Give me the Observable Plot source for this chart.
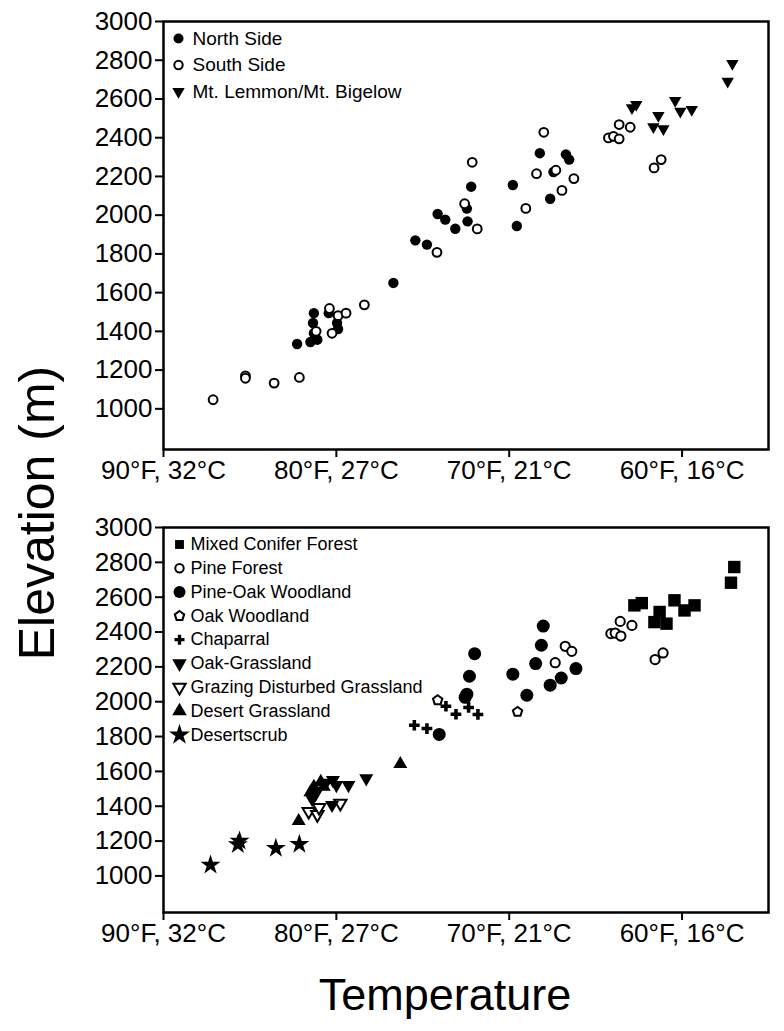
<!DOCTYPE html>
<html><head><meta charset="utf-8">
<script src="https://cdn.jsdelivr.net/npm/d3@7"></script>
<script src="https://cdn.jsdelivr.net/npm/@observablehq/plot@0.6"></script>
<style>
body{margin:0;background:#fff;font-family:"Liberation Sans",Arial,sans-serif;}
#wrap{position:relative;width:784px;height:1031px;overflow:hidden;background:#fff;}
#top{position:absolute;left:0;top:0;}
#bot{position:absolute;left:0;top:490px;}
#xtitle{position:absolute;left:245px;width:400px;top:972px;text-align:center;font-size:45px;line-height:45px;color:#000;}
#ytitle{position:absolute;left:37px;top:513px;transform:translate(-50%,-50%) rotate(-90deg);white-space:nowrap;font-size:50px;line-height:50px;color:#000;}
</style></head>
<body><div id="wrap"><div id="top"></div><div id="bot"></div>
<div id="xtitle">Temperature</div><div id="ytitle">Elevation (m)</div></div>
<script>
// ---- axis ticks ----
const xTicks = [90, 80, 70, 60];
const xTickLabels = ["90°F, 32°C", "80°F, 27°C", "70°F, 21°C", "60°F, 16°C"];
const yTicks = [1000, 1200, 1400, 1600, 1800, 2000, 2200, 2400, 2600, 2800, 3000];

// ---- top panel: [temperature °F, elevation m] ----
const northSide = [
  [82.27,1335],[81.3,1494],[81.35,1443],[81.5,1345],[81.1,1357],[81.3,1390],
  [80.44,1494],[79.96,1443],[79.9,1412],[76.7,1650],[75.43,1870],[74.76,1848],
  [74.14,2006],[73.7,1977],[73.12,1930],[72.41,1968],[72.45,2034],[72.2,2147],
  [69.79,2156],[69.56,1944],[68.23,2320],[67.63,2085],[67.44,2223],[66.72,2314],[66.53,2287]
];
const southSide = [
  [87.13,1047],[85.26,1170],[85.26,1158],[83.6,1133],[82.14,1162],[81.17,1400],
  [80.4,1518],[79.9,1481],[79.44,1494],[80.25,1390],[78.38,1537],[74.18,1808],
  [72.58,2059],[72.14,2273],[71.85,1929],[69.04,2035],[68.42,2214],[68.0,2428],
  [67.3,2232],[66.95,2128],[66.26,2189],[64.26,2399],[63.97,2407],[63.64,2394],
  [63.64,2468],[63.0,2454],[61.62,2244],[61.21,2287]
];
const mtLemmon = [
  [62.9,2554],[62.65,2571],[61.37,2514],[61.66,2456],[61.08,2446],[60.4,2592],
  [60.1,2536],[59.44,2545],[57.09,2783],[57.36,2691]
];
const topLabels = ["North Side", "South Side", "Mt. Lemmon/Mt. Bigelow"];

// ---- bottom panel: vegetation ----
const mixedConifer = [[62.76,2553],[62.33,2566],[61.3,2515],[61.6,2457],[60.9,2448],[60.44,2582],[59.86,2524],[59.28,2553],[56.98,2773],[57.17,2683]];
const pineForest = [[64.12,2391],[63.87,2394],[63.54,2377],[63.58,2461],[62.9,2438],[61.56,2242],[61.1,2280],[67.34,2224],[66.76,2318],[66.38,2289]];
const pineOak = [[74.05,1812],[72.45,2043],[72.55,2025],[72.3,2146],[72.0,2276],[69.79,2158],[68.98,2037],[68.47,2219],[68.14,2324],[68.03,2434],[67.63,2095],[66.99,2136],[66.14,2190]];
const oakWoodland = [[74.14,2009],[69.52,1942]];
const chaparral = [[75.49,1865],[74.76,1846],[73.66,1974],[73.08,1928],[72.35,1967],[71.81,1927]];
const oakGrassland = [[80.2,1550],[80.0,1521],[79.3,1521],[78.27,1560],[80.25,1407],[81.4,1440],[81.2,1470],[80.6,1535]];
const grazingGrassland = [[81.6,1370],[81.1,1352],[81.0,1393],[79.77,1417]];
const desertGrassland = [[82.18,1315],[81.3,1512],[80.73,1512],[80.9,1540],[81.5,1480],[76.3,1642]];
const desertscrub = [[87.28,1063],[85.7,1180],[85.6,1200],[83.5,1159],[82.14,1182]];
const bottomLabels = ["Mixed Conifer Forest","Pine Forest","Pine-Oak Woodland","Oak Woodland","Chaparral","Oak-Grassland","Grazing Disturbed Grassland","Desert Grassland","Desertscrub"];

// ---- custom symbols ----
const triangleDown = {draw(ctx, size){ const y = -Math.sqrt(size/(Math.sqrt(3)*3)); const s3=Math.sqrt(3);
  ctx.moveTo(0, -y*2); ctx.lineTo(-s3*y, y); ctx.lineTo(s3*y, y); ctx.closePath(); }};
const pentagon = {draw(ctx, size){ const R = Math.sqrt(size/2.3776);
  for(let k=0;k<5;k++){ const a=-Math.PI/2 + k*2*Math.PI/5; const px=R*Math.cos(a), py=R*Math.sin(a); if(k===0) ctx.moveTo(px,py); else ctx.lineTo(px,py);} ctx.closePath(); }};

const FONT = '"Liberation Sans", Arial, sans-serif';
function panel(height, marginTop, marginBottom, marks){
  return Plot.plot({
    width: 784, height, marginLeft: 163, marginRight: 16, marginTop, marginBottom,
    style: {fontFamily: FONT, fontSize: "26px", color: "black", background: "white", overflow: "visible"},
    x: {domain: [90, 55]},
    y: {domain: [790, 3000]},
    marks: [
      Plot.axisX({ticks: xTicks, tickFormat: d => xTickLabels[xTicks.indexOf(d)], tickSize: 8, strokeWidth: 2, tickPadding: 3, label: null, fontSize: 26}),
      Plot.axisY({ticks: yTicks, tickFormat: d => String(d), tickSize: 8, strokeWidth: 2, tickPadding: 3, label: null, fontSize: 26}),
      ...marks,
      Plot.frame({stroke: "black", strokeWidth: 2.5})
    ]
  });
}
const X = d => d[0], Y = d => d[1];
function legendItem(i, label, sym, r, filled, y0, step, dxSym, dxText, fs){
  return [
    Plot.dot([0], {frameAnchor: "top-left", dx: dxSym, dy: y0 + i*step, symbol: sym, r, fill: filled ? "black" : "white", stroke: "black", strokeWidth: filled ? 0 : 2}),
    Plot.text([label], {frameAnchor: "top-left", dx: dxText, dy: y0 + i*step, text: d => d, textAnchor: "start", lineAnchor: "middle", fontSize: fs, fill: "black"})
  ];
}

const topSyms = [["circle",5,true],["circle",4.2,false],[triangleDown,4.6,true]];
const topPlot = panel(490, 21, 41, [
  Plot.dot(northSide, {x: X, y: Y, r: 5.2, fill: "black", symbol: "circle"}),
  Plot.dot(southSide, {x: X, y: Y, r: 4.4, fill: "white", stroke: "black", strokeWidth: 2, symbol: "circle"}),
  Plot.dot(mtLemmon, {x: X, y: Y, r: 4.6, fill: "black", symbol: triangleDown}),
  ...topLabels.flatMap((lab, i) => legendItem(i, lab, topSyms[i][0], topSyms[i][1], topSyms[i][2], 17, 26.5, 15, 29, 19))
]);
document.getElementById("top").appendChild(topPlot);

const botSyms = [
  [d3.symbolSquare,5,true],["circle",4.2,false],["circle",6,true],[pentagon,4.3,false],[d3.symbolCross,4.2,true],
  [triangleDown,5.4,true],[triangleDown,4.6,false],[d3.symbolTriangle,5.4,true],[d3.symbolStar,6.6,true]
];
const botPlot = panel(470, 37, 48, [
  Plot.dot(desertscrub, {x: X, y: Y, r: 6.3, fill: "black", symbol: d3.symbolStar}),
  Plot.dot(desertGrassland, {x: X, y: Y, r: 5.2, fill: "black", symbol: d3.symbolTriangle}),
  Plot.dot(grazingGrassland, {x: X, y: Y, r: 4.6, fill: "white", stroke: "black", strokeWidth: 2, symbol: triangleDown}),
  Plot.dot(oakGrassland, {x: X, y: Y, r: 5.2, fill: "black", symbol: triangleDown}),
  Plot.dot(chaparral, {x: X, y: Y, r: 4.5, fill: "black", symbol: d3.symbolCross}),
  Plot.dot(oakWoodland, {x: X, y: Y, r: 4.3, fill: "white", stroke: "black", strokeWidth: 2, symbol: pentagon}),
  Plot.dot(pineOak, {x: X, y: Y, r: 6.5, fill: "black", symbol: "circle"}),
  Plot.dot(pineForest, {x: X, y: Y, r: 4.6, fill: "white", stroke: "black", strokeWidth: 2, symbol: "circle"}),
  Plot.dot(mixedConifer, {x: X, y: Y, r: 7, fill: "black", symbol: d3.symbolSquare}),
  ...bottomLabels.flatMap((lab, i) => legendItem(i, lab, botSyms[i][0], botSyms[i][1], botSyms[i][2], 17, 23.8, 16, 27, 18))
]);
document.getElementById("bot").appendChild(botPlot);
</script></body></html>
